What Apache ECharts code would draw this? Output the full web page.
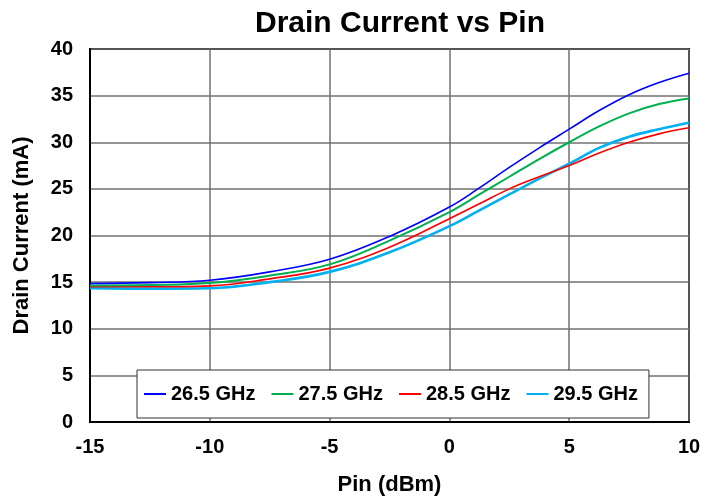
<!DOCTYPE html>
<html><head><meta charset="utf-8">
<script src="https://cdn.jsdelivr.net/npm/echarts@6/dist/echarts.min.js"></script>
<style>html,body{margin:0;padding:0;background:#fff}#c{width:717px;height:501px}</style>
</head><body><div id="c"></div>
<script>
const pin = [-15, -12.5, -10, -7.5, -5, -2.5, 0, 1.25, 2.5, 3.75, 5, 6.25, 7.5, 8.75, 10];
const f265 = [14.85, 14.95, 15.2, 16.1, 17.45, 19.9, 23.05, 25.1, 27.3, 29.4, 31.4, 33.4, 35.1, 36.4, 37.4];
const f275 = [14.65, 14.7, 14.9, 15.7, 16.9, 19.45, 22.5, 24.4, 26.3, 28.2, 30.0, 31.7, 33.1, 34.1, 34.7];
const f285 = [14.5, 14.5, 14.6, 15.35, 16.5, 18.75, 21.8, 23.4, 25.0, 26.3, 27.5, 28.85, 30.0, 30.9, 31.55];
const f295 = [14.35, 14.3, 14.35, 15.0, 16.1, 18.2, 21.0, 22.7, 24.4, 26.1, 27.7, 29.4, 30.6, 31.4, 32.1];
const names = ['26.5 GHz', '27.5 GHz', '28.5 GHz', '29.5 GHz'];
const colors = ['#0000ff', '#00b050', '#ff0000', '#00b0f0'];
const widths = [1.6, 2, 1.6, 2.6];
const all = [f265, f275, f285, f295];
const font = 'Liberation Sans, Arial, sans-serif';
const chart = echarts.init(document.getElementById('c'));
chart.setOption({
  animation: false,
  title: { text: 'Drain Current vs Pin', left: 395, textAlign: 'center', top: 4,
    textStyle: { fontFamily: font, fontSize: 30, fontWeight: 'bold', color: '#000' } },
  grid: { left: 90, right: 28, top: 49, bottom: 76, show: true, borderColor: '#000', borderWidth: 2 },
  legend: {
    left: 137, top: 370, orient: 'horizontal',
    backgroundColor: '#fff', borderColor: '#333', borderWidth: 1, padding: [14, 11, 14, 7],
    itemGap: 16, itemWidth: 22, itemHeight: 2, icon: 'rect',
    textStyle: { fontFamily: font, fontSize: 20, fontWeight: 'bold', color: '#000' },
    data: names
  },
  xAxis: {
    type: 'value', min: -15, max: 10, interval: 5,
    name: 'Pin (dBm)', nameLocation: 'middle', nameGap: 52,
    nameTextStyle: { fontFamily: font, fontSize: 22, fontWeight: 'bold', color: '#000' },
    axisLine: { show: true, onZero: false, lineStyle: { color: '#000', width: 2 } },
    axisTick: { show: false },
    axisLabel: { fontFamily: font, fontSize: 20, fontWeight: 'bold', color: '#000', margin: 15 },
    splitLine: { show: true, lineStyle: { color: '#707070', width: 1.5 } }
  },
  yAxis: {
    type: 'value', min: 0, max: 40, interval: 5,
    name: 'Drain Current (mA)', nameLocation: 'middle', nameGap: 57, nameRotate: 90,
    nameTextStyle: { fontFamily: font, fontSize: 22, fontWeight: 'bold', color: '#000' },
    axisLine: { show: true, onZero: false, lineStyle: { color: '#000', width: 2 } },
    axisTick: { show: false },
    axisLabel: { fontFamily: font, fontSize: 20, fontWeight: 'bold', color: '#000', margin: 17 },
    splitLine: { show: true, lineStyle: { color: '#707070', width: 1.5 } }
  },
  series: all.map((d, i) => ({
    name: names[i], type: 'line', smooth: 0.4, showSymbol: false, symbol: 'none',
    data: pin.map((x, j) => [x, d[j]]),
    lineStyle: { color: colors[i], width: widths[i] },
    itemStyle: { color: colors[i] }, z: 10 - i
  }))
});
</script></body></html>
